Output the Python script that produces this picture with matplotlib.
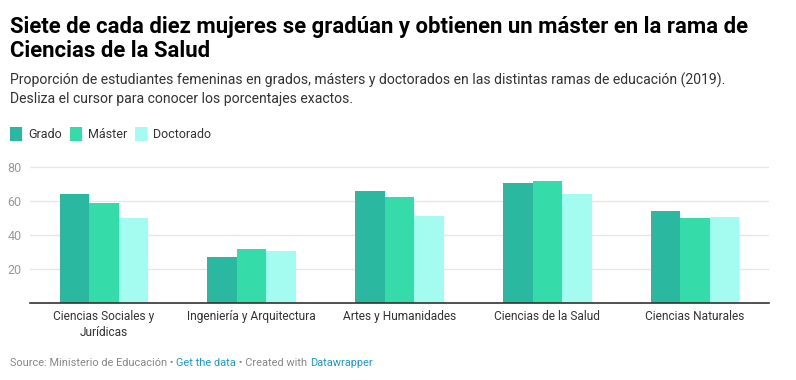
import matplotlib
matplotlib.use("Agg")
import matplotlib.pyplot as plt
import numpy as np
from matplotlib.patches import Rectangle

categories = ["Ciencias Sociales y\nJurídicas", "Ingeniería y Arquitectura",
              "Artes y Humanidades", "Ciencias de la Salud", "Ciencias Naturales"]
series_names = ["Grado", "Máster", "Doctorado"]
grado = [64.1, 27.0, 65.9, 70.6, 54.1]
master = [58.8, 31.7, 62.4, 71.8, 49.8]
doctorado = [49.8, 30.5, 51.2, 64.1, 50.6]
yticks = [20, 40, 60, 80]

colors = ["#2ab8a0", "#35dba8", "#a4fbf0"]

W, H = 796, 380
fig = plt.figure(figsize=(W / 100, H / 100), dpi=100)
plt.rcParams['font.family'] = ['Roboto', 'DejaVu Sans']

def fx(x):
    return x / W

def fy(y):
    return 1 - y / H

# Title
fig.text(fx(10), fy(33), "Siete de cada diez mujeres se gradúan y obtienen un máster en la rama de",
         fontsize=15.9, fontweight='bold', color='#000000', va='baseline', ha='left')
fig.text(fx(10), fy(57), "Ciencias de la Salud",
         fontsize=15.9, fontweight='bold', color='#000000', va='baseline', ha='left')
# Subtitle
fig.text(fx(10), fy(85), "Proporción de estudiantes femeninas en grados, másters y doctorados en las distintas ramas de educación (2019).",
         fontsize=10.05, color='#333333', va='baseline', ha='left')
fig.text(fx(10), fy(103), "Desliza el cursor para conocer los porcentajes exactos.",
         fontsize=10.05, color='#333333', va='baseline', ha='left')

# Legend
leg_x = [10, 70, 135]
for lx, name, c in zip(leg_x, series_names, colors):
    fig.patches.append(Rectangle((fx(lx), fy(141)), 12 / W, 14 / H, transform=fig.transFigure,
                                 facecolor=c, edgecolor='none'))
    fig.text(fx(lx + 18), fy(138), name, fontsize=9, color='#333333', va='baseline', ha='left')

# Axes
ax = fig.add_axes([fx(30), 1 - 302.7 / H, (769 - 30) / W, (302.7 - 163.7) / H])
x = np.arange(len(categories))
bw = 0.2
for i, (vals, c) in enumerate(zip([grado, master, doctorado], colors)):
    ax.bar(x + (i - 1) * bw, vals, width=bw, color=c, edgecolor='none', zorder=2)

ax.set_xlim(-0.5, len(categories) - 0.5)
ax.set_ylim(0, 82)
ax.set_yticks(yticks)
ax.set_yticklabels([str(t) for t in yticks])
ax.grid(axis='y', color='#e6e6e6', linewidth=1, zorder=0)
ax.set_axisbelow(True)
for s in ['top', 'right', 'left']:
    ax.spines[s].set_visible(False)
ax.spines['bottom'].set_color('#333333')
ax.spines['bottom'].set_linewidth(1.2)
ax.tick_params(axis='y', length=0, pad=6, labelsize=9, labelcolor='#999999')
ax.tick_params(axis='x', length=0, pad=5, labelsize=8.6, labelcolor='#333333')
ax.set_xticks(x)
ax.set_xticklabels(categories, linespacing=1.3)
for lab in ax.get_xticklabels():
    lab.set_verticalalignment('top')

# Footer
from matplotlib.offsetbox import TextArea, HPacker, AnchoredOffsetbox
parts = [("Source: Ministerio de Educación", '#888888'), (" • ", '#888888'),
         ("Get the data", '#1d9bc4'), (" • Created with ", '#888888'), ("Datawrapper", '#1d9bc4')]
boxes = [TextArea(t, textprops=dict(fontsize=7.9, color=c)) for t, c in parts]
pack = HPacker(children=boxes, pad=0, sep=0)
ab = AnchoredOffsetbox(loc='lower left', child=pack, pad=0, frameon=False,
                       bbox_to_anchor=(fx(10), fy(368)), bbox_transform=fig.transFigure,
                       borderpad=0)
fig.add_artist(ab)

fig.savefig("out.png", dpi=100, facecolor='white')
